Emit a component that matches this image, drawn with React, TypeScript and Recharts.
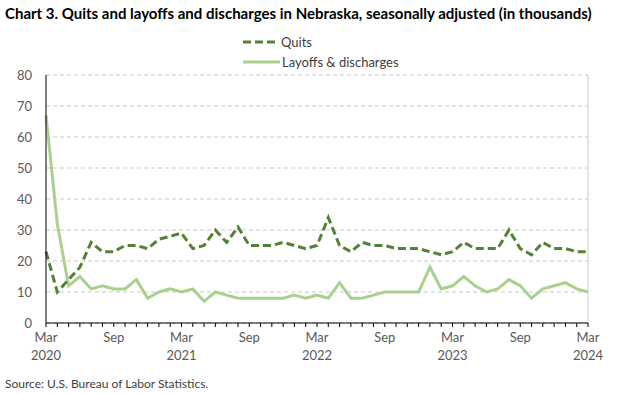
import { LineChart, Line, XAxis, YAxis, CartesianGrid, ReferenceLine } from 'recharts'

const months = [
  'Mar 2020', 'Apr 2020', 'May 2020', 'Jun 2020', 'Jul 2020', 'Aug 2020', 'Sep 2020', 'Oct 2020', 'Nov 2020', 'Dec 2020',
  'Jan 2021', 'Feb 2021', 'Mar 2021', 'Apr 2021', 'May 2021', 'Jun 2021', 'Jul 2021', 'Aug 2021', 'Sep 2021', 'Oct 2021', 'Nov 2021', 'Dec 2021',
  'Jan 2022', 'Feb 2022', 'Mar 2022', 'Apr 2022', 'May 2022', 'Jun 2022', 'Jul 2022', 'Aug 2022', 'Sep 2022', 'Oct 2022', 'Nov 2022', 'Dec 2022',
  'Jan 2023', 'Feb 2023', 'Mar 2023', 'Apr 2023', 'May 2023', 'Jun 2023', 'Jul 2023', 'Aug 2023', 'Sep 2023', 'Oct 2023', 'Nov 2023', 'Dec 2023',
  'Jan 2024', 'Feb 2024', 'Mar 2024',
]

const quits = [
  23, 10, 14, 18, 26, 23, 23, 25, 25, 24,
  27, 28, 29, 24, 25, 30, 26, 31, 25, 25, 25, 26,
  25, 24, 25, 34, 25, 23, 26, 25, 25, 24, 24, 24,
  23, 22, 23, 26, 24, 24, 24, 30, 24, 22, 26, 24,
  24, 23, 23,
]

const layoffs = [
  67, 32, 12, 15, 11, 12, 11, 11, 14, 8,
  10, 11, 10, 11, 7, 10, 9, 8, 8, 8, 8, 8,
  9, 8, 9, 8, 13, 8, 8, 9, 10, 10, 10, 10,
  18, 11, 12, 15, 12, 10, 11, 14, 12, 8, 11, 12,
  13, 11, 10,
]

const yTicks = [0, 10, 20, 30, 40, 50, 60, 70, 80]

const data = months.map((m, i) => ({ i, month: m, quits: quits[i], layoffs: layoffs[i] }))
const xTicks = months.map((_, i) => i)

const FONT = 'Lato, "Open Sans", sans-serif'
const QUITS = '#548235'
const LAYOFFS = '#a9d18e'

function MonthTick({ x, y, payload }: any) {
  const [mon, yr] = months[payload.value].split(' ')
  if (mon !== 'Mar' && mon !== 'Sep') return null
  return (
    <g transform={`translate(${x},${y})`}>
      <text x={0} y={13} textAnchor="middle" fill="#595959" fontSize={13} fontFamily={FONT}>{mon}</text>
      {mon === 'Mar' && (
        <text x={0} y={31} textAnchor="middle" fill="#595959" fontSize={13} fontFamily={FONT}>{yr}</text>
      )}
    </g>
  )
}

export default function App() {
  return (
    <div style={{ position: 'absolute', left: 0, top: 0, width: 624, height: 394, background: '#fff', fontFamily: FONT }}>
      <div style={{ position: 'absolute', left: 5, top: 4, fontSize: 15, fontWeight: 700, color: '#000', whiteSpace: 'nowrap' }}>
        Chart 3. Quits and layoffs and discharges in Nebraska, seasonally adjusted (in thousands)
      </div>
      <svg width={624} height={80} style={{ position: 'absolute', left: 0, top: 0 }}>
        <line x1={243} x2={276} y1={42} y2={42} stroke={QUITS} strokeWidth={3} strokeDasharray="8 4" />
        <text x={281} y={46.5} fill="#404040" fontSize={13} fontFamily={FONT}>Quits</text>
        <line x1={243} x2={280} y1={62} y2={62} stroke={LAYOFFS} strokeWidth={3} />
        <text x={282} y={66.5} fill="#404040" fontSize={13} fontFamily={FONT}>Layoffs &amp; discharges</text>
      </svg>
      <div style={{ position: 'absolute', left: 0, top: 0 }}>
        <LineChart width={624} height={394} data={data} margin={{ top: 75, right: 36, left: 0, bottom: 41 }}>
          <CartesianGrid vertical={false} stroke="#c8c8c8" strokeDasharray="4 3" />
          <XAxis
            dataKey="i"
            type="number"
            domain={[0, 48]}
            ticks={xTicks}
            interval={0}
            height={30}
            tickSize={4}
            tickMargin={2}
            stroke="#000"
            tick={<MonthTick />}
          />
          <YAxis
            domain={[0, 80]}
            ticks={yTicks}
            interval={0}
            width={46}
            tickLine={false}
            stroke="#000"
            tickMargin={8}
            tick={{ fill: '#595959', fontSize: 13, fontFamily: FONT }}
          />
          <ReferenceLine x={48} stroke="#d0d0d0" />
          <Line dataKey="layoffs" name="Layoffs & discharges" stroke={LAYOFFS} strokeWidth={3} dot={false} isAnimationActive={false} />
          <Line dataKey="quits" name="Quits" stroke={QUITS} strokeWidth={3} strokeDasharray="8 4" dot={false} isAnimationActive={false} />
        </LineChart>
      </div>
      <div style={{ position: 'absolute', left: 5, top: 376, fontSize: 12, color: '#404040', whiteSpace: 'nowrap' }}>
        Source: U.S. Bureau of Labor Statistics.
      </div>
    </div>
  )
}
